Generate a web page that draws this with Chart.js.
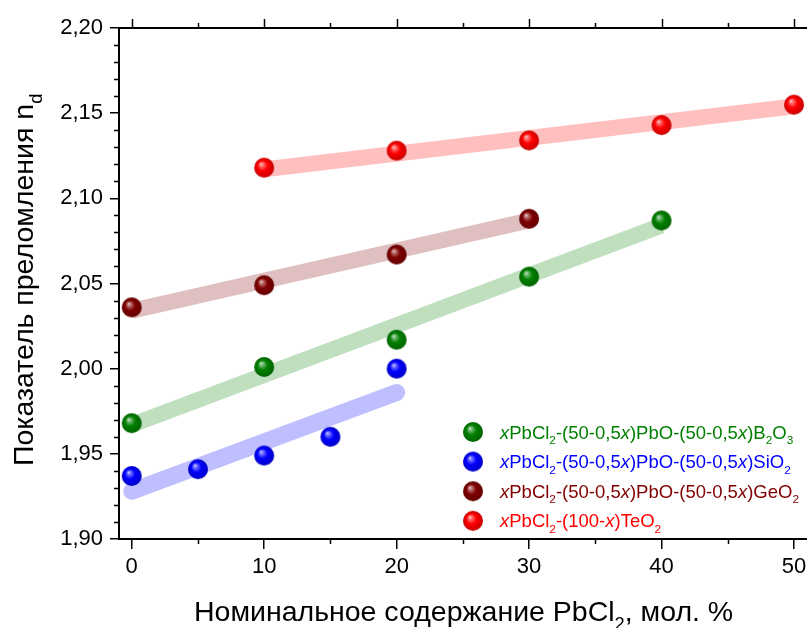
<!DOCTYPE html>
<html>
<head>
<meta charset="utf-8">
<script src="https://cdn.jsdelivr.net/npm/chart.js@4/dist/chart.umd.min.js"></script>
<style>
  html, body { margin: 0; padding: 0; background: #ffffff; overflow: hidden; }
  canvas { display: block; }
</style>
</head>
<body>
<canvas id="chart" width="807" height="628"></canvas>
<script>
const FONT = "'Liberation Sans', Arial, Helvetica, sans-serif";

// Nominal PbCl2 content, mol. %, and measured refractive index n_d
const xB2O3 = [0, 10, 20, 30, 40];
const ndB2O3 = [1.968, 2.001, 2.017, 2.054, 2.087];

const xSiO2 = [0, 5, 10, 15, 20];
const ndSiO2 = [1.937, 1.941, 1.949, 1.960, 2.000];

const xGeO2 = [0, 10, 20, 30];
const ndGeO2 = [2.036, 2.049, 2.067, 2.088];

const xTeO2 = [10, 20, 30, 40, 50];
const ndTeO2 = [2.118, 2.128, 2.134, 2.143, 2.155];

// Linear trend bands (end points)
const fitXB2O3 = [0, 40];
const fitYB2O3 = [1.967, 2.084];
const fitXSiO2 = [0, 20];
const fitYSiO2 = [1.928, 1.986];
const fitXGeO2 = [0, 30];
const fitYGeO2 = [2.034, 2.087];
const fitXTeO2 = [10, 50];
const fitYTeO2 = [2.117, 2.154];

// Axis ticks
const xTickValues = [0, 10, 20, 30, 40, 50];
const xMinorValues = [5, 15, 25, 35, 45];
const yTickValues = [1.90, 1.95, 2.00, 2.05, 2.10, 2.15, 2.20];
const yMinorValues = [1.91, 1.92, 1.93, 1.94, 1.96, 1.97, 1.98, 1.99,
                      2.01, 2.02, 2.03, 2.04, 2.06, 2.07, 2.08, 2.09,
                      2.11, 2.12, 2.13, 2.14, 2.16, 2.17, 2.18, 2.19];

// Series styling and legend text (<i> italic, <sub> subscript)
const seriesColors = ['#008000', '#0000ff', '#800000', '#ff0000'];
const bandColors = ['rgba(0,128,0,0.25)', 'rgba(0,0,255,0.25)', 'rgba(128,0,0,0.25)', 'rgba(255,0,0,0.25)'];
const legendLabels = [
  '<i>x</i>PbCl<sub>2</sub>-(50-0,5<i>x</i>)PbO-(50-0,5<i>x</i>)B<sub>2</sub>O<sub>3</sub>',
  '<i>x</i>PbCl<sub>2</sub>-(50-0,5<i>x</i>)PbO-(50-0,5<i>x</i>)SiO<sub>2</sub>',
  '<i>x</i>PbCl<sub>2</sub>-(50-0,5<i>x</i>)PbO-(50-0,5<i>x</i>)GeO<sub>2</sub>',
  '<i>x</i>PbCl<sub>2</sub>-(100-<i>x</i>)TeO<sub>2</sub>'
];
const xTitle = 'Номинальное содержание PbCl<sub>2</sub>, мол. %';
const yTitle = 'Показатель преломления n<sub>d</sub>';

function toPoints(xs, ys) { return xs.map((x, i) => ({ x: x, y: ys[i] })); }

function mix(hex, target, t) {
  const n = parseInt(hex.slice(1), 16);
  const c = [(n >> 16) & 255, (n >> 8) & 255, n & 255];
  return 'rgb(' + c.map(v => Math.round(v + (target - v) * t)).join(',') + ')';
}

// Shaded ball marker
function sphere(color, r) {
  const s = 2 * r + 2;
  const c = document.createElement('canvas');
  c.width = s; c.height = s;
  const g = c.getContext('2d');
  const cx = s / 2, cy = s / 2;
  const grad = g.createRadialGradient(cx - r * 0.32, cy - r * 0.38, 0, cx, cy, r);
  grad.addColorStop(0, mix(color, 255, 0.85));
  grad.addColorStop(0.18, mix(color, 255, 0.45));
  grad.addColorStop(0.5, color);
  grad.addColorStop(1, mix(color, 0, 0.22));
  g.fillStyle = grad;
  g.beginPath();
  g.arc(cx, cy, r, 0, Math.PI * 2);
  g.fill();
  return c;
}
const balls = seriesColors.map(c => sphere(c, 10));

function parseRich(str) {
  const out = [];
  const re = /<(i|sub)>(.*?)<\/\1>|([^<]+)/g;
  let m;
  while ((m = re.exec(str))) {
    if (m[3]) out.push({ t: m[3], i: false, s: false });
    else out.push({ t: m[2], i: m[1] === 'i', s: m[1] === 'sub' });
  }
  return out;
}

function richFont(seg, size) {
  const sz = seg.s ? size * 0.64 : size;
  return (seg.i ? 'italic ' : '') + sz + 'px ' + FONT;
}

function drawRich(ctx, str, x, y, size, color) {
  const segs = parseRich(str);
  ctx.save();
  ctx.fillStyle = color;
  ctx.textBaseline = 'alphabetic';
  ctx.textAlign = 'left';
  let cx = x;
  segs.forEach(seg => {
    ctx.font = richFont(seg, size);
    ctx.fillText(seg.t, cx, seg.s ? y + size * 0.3 : y);
    cx += ctx.measureText(seg.t).width;
  });
  ctx.restore();
  return cx - x;
}

const decorations = {
  id: 'decorations',
  afterDatasetsDraw(chart) {
    const ctx = chart.ctx;
    const xs = chart.scales.x, ys = chart.scales.y;
    const area = chart.chartArea;
    ctx.save();
    ctx.strokeStyle = '#000';
    ctx.lineWidth = 1.5;
    ctx.beginPath();
    // minor ticks, left axis
    yMinorValues.forEach(v => {
      const p = Math.round(ys.getPixelForValue(v)) + 0.5;
      ctx.moveTo(area.left - 5, p); ctx.lineTo(area.left, p);
    });
    // minor ticks, bottom axis
    xMinorValues.forEach(v => {
      const p = Math.round(xs.getPixelForValue(v)) + 0.5;
      ctx.moveTo(p, area.bottom); ctx.lineTo(p, area.bottom + 5);
    });
    // top axis ticks
    xTickValues.forEach(v => {
      const p = Math.round(xs.getPixelForValue(v)) + 0.5;
      ctx.moveTo(p, area.top); ctx.lineTo(p, area.top - 9);
    });
    xMinorValues.forEach(v => {
      const p = Math.round(xs.getPixelForValue(v)) + 0.5;
      ctx.moveTo(p, area.top); ctx.lineTo(p, area.top - 5);
    });
    ctx.stroke();
    // top axis line
    ctx.lineWidth = 2;
    ctx.beginPath();
    ctx.moveTo(area.left - 1, area.top);
    ctx.lineTo(area.right, area.top);
    ctx.stroke();
    ctx.restore();

    // axis titles
    drawRich(ctx, xTitle, 194, 621, 28.5, '#000');
    ctx.save();
    ctx.translate(33, 466);
    ctx.rotate(-Math.PI / 2);
    drawRich(ctx, yTitle, 0, 0, 28.5, '#000');
    ctx.restore();

    // legend
    const lgSize = 18.5;
    legendLabels.forEach((lab, i) => {
      const cy = 432 + i * 29.6;
      ctx.drawImage(balls[i], 473 - balls[i].width / 2, cy - balls[i].height / 2);
      drawRich(ctx, lab, 500, cy + 6.5, lgSize, seriesColors[i]);
    });
  }
};

const pointSets = [
  toPoints(xB2O3, ndB2O3), toPoints(xSiO2, ndSiO2),
  toPoints(xGeO2, ndGeO2), toPoints(xTeO2, ndTeO2)
];
const bandSets = [
  toPoints(fitXB2O3, fitYB2O3), toPoints(fitXSiO2, fitYSiO2),
  toPoints(fitXGeO2, fitYGeO2), toPoints(fitXTeO2, fitYTeO2)
];
const bandCaps = ['butt', 'round', 'butt', 'butt'];
const bandWidths = [16, 17, 16, 16];

const datasets = [];
bandSets.forEach((pts, i) => {
  datasets.push({
    type: 'line', data: pts, borderColor: bandColors[i], borderWidth: bandWidths[i],
    borderCapStyle: bandCaps[i], pointRadius: 0, pointHoverRadius: 0, fill: false, order: 2
  });
});
pointSets.forEach((pts, i) => {
  datasets.push({
    type: 'scatter', data: pts, pointStyle: balls[i], pointRadius: 10,
    pointHoverRadius: 10, showLine: false, order: 1
  });
});

new Chart(document.getElementById('chart'), {
  type: 'scatter',
  data: { datasets: datasets },
  options: {
    responsive: false,
    animation: false,
    events: [],
    layout: { autoPadding: false, padding: { top: 28, right: 0, bottom: 0, left: 0 } },
    plugins: { legend: { display: false }, tooltip: { enabled: false } },
    scales: {
      x: {
        type: 'linear', position: 'bottom', min: -0.96, max: 50.98,
        afterBuildTicks: s => { s.ticks = xTickValues.map(v => ({ value: v })); },
        afterFit: s => { s.height = 89; s.paddingLeft = 0; s.paddingRight = 0; },
        ticks: { autoSkip: false, maxRotation: 0, padding: 5, color: '#000',
                 font: { family: FONT, size: 22 }, callback: v => String(v) },
        grid: { display: true, drawOnChartArea: false, drawTicks: true, tickLength: 10,
                color: '#000', lineWidth: 1.5 },
        border: { display: true, color: '#000', width: 2 }
      },
      y: {
        type: 'linear', position: 'left', min: 1.90, max: 2.20,
        afterBuildTicks: s => { s.ticks = yTickValues.map(v => ({ value: v })); },
        afterFit: s => { s.width = 119; s.paddingTop = 0; s.paddingBottom = 0; },
        ticks: { autoSkip: false, padding: 7, color: '#000',
                 font: { family: FONT, size: 22 },
                 callback: v => v.toFixed(2).replace('.', ',') },
        grid: { display: true, drawOnChartArea: false, drawTicks: true, tickLength: 9,
                color: '#000', lineWidth: 1.5 },
        border: { display: true, color: '#000', width: 2 }
      }
    }
  },
  plugins: [decorations]
});
</script>
</body>
</html>
